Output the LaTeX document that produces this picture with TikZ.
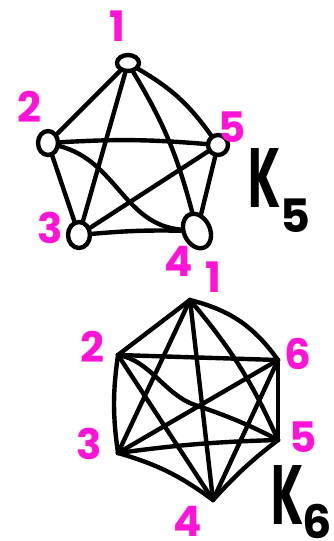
\documentclass[tikz,border=0pt]{standalone}
\usepackage{fontspec}
\setmainfont{Poppins}
\usetikzlibrary{shapes.geometric}
\definecolor{lblmag}{RGB}{255,20,215}
\begin{document}
\begin{tikzpicture}[x=1pt,y=-1pt,
  ink/.style={line width=4.4pt,line cap=round,line join=round,black},
  vtx/.style={ink,draw,ellipse,inner sep=0pt,fill=white},
  lbl/.style={text=lblmag,font=\fontsize{42}{42}\selectfont\bfseries,inner sep=0pt},
  kname/.style={font=\fontsize{84}{84}\selectfont\bfseries,inner sep=0pt,xscale=0.55},
  ksub/.style={font=\fontsize{46}{46}\selectfont\bfseries,inner sep=0pt}]
\useasboundingbox (0,0) rectangle (333,541);
% ---------- K5 ----------
\node[vtx,minimum width=22pt,minimum height=16pt] (a1) at (128,63) {};
\node[vtx,minimum width=20pt,minimum height=24pt] (a2) at (48,143) {};
\node[vtx,minimum width=20pt,minimum height=20pt] (a5) at (218,145) {};
\node[vtx,minimum width=22pt,minimum height=26pt] (a3) at (79,235) {};
\node[vtx,minimum width=26pt,minimum height=36pt,rotate=25] (a4) at (197,231) {};
\begin{scope}[ink]
\draw (a1) -- (a2);
\draw (a1) -- (a3);
\draw (a1) to[bend left=8] (a4);
\draw (a1) to[bend left=12] (a5);
\draw (a2) to[bend left=4] (a5);
\draw (a2) -- (a3);
\draw (a2) to[out=-15,in=170] (a4);
\draw (a3) -- (a5);
\draw (a3) to[bend left=3] (a4);
\draw (a4) -- (a5);
\end{scope}
\node[lbl] (l1) at (117,26) {1};
\node[lbl] (l2) at (29,107) {2};
\node[lbl] (l5) at (232,127) {5};
\node[lbl] (l3) at (50,228) {3};
\node[lbl] (l4) at (179,261) {4};
\node[kname] (k5) at (265,178) {K};
\node[ksub] (k5s) at (295,216) {5};
% ---------- K6 ----------
\coordinate (b1) at (190,300);
\coordinate (b2) at (118,355);
\coordinate (b6) at (278,360);
\coordinate (b3) at (118,453);
\coordinate (b5) at (278,440);
\coordinate (b4) at (213,500);
\begin{scope}[ink]
\draw (b1) -- (b2);
\draw (b1) -- (b3);
\draw (b1) -- (b4);
\draw (b1) to[bend left=8] (b5);
\draw (b1) to[bend left=20] (b6);
\draw (b2) -- (b6);
\draw (b2) to[bend right=8] (b3);
\draw (b2) .. controls (150,360) and (165,395) .. (195,405) .. controls (225,415) and (250,425) .. (b5);
\draw (b2) -- (b4);
\draw (b3) -- (b6);
\draw (b3) to[bend left=3] (b5);
\draw (b3) to[bend left=10] (b4);
\draw (b4) -- (b6);
\draw (b4) to[bend left=5] (b5);
\draw (b5) -- (b6);
\end{scope}
\node[lbl] (m1) at (213,277) {1};
\node[lbl] (m2) at (92,347) {2};
\node[lbl] (m6) at (298,354) {6};
\node[lbl] (m3) at (89,444) {3};
\node[lbl] (m5) at (303,437) {5};
\node[lbl] (m4) at (188,521) {4};
\node[kname] (k6) at (288,495) {K};
\node[ksub] (k6s) at (317,521) {6};
\end{tikzpicture}
\end{document}
